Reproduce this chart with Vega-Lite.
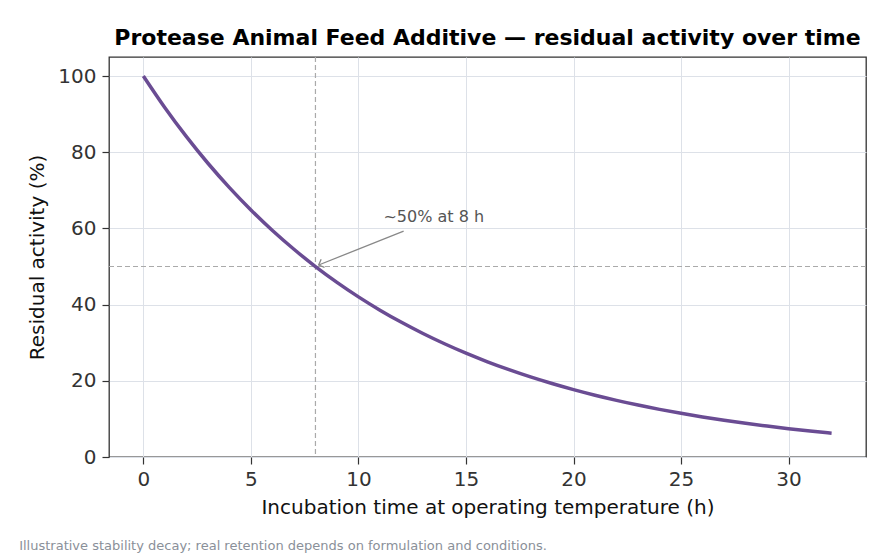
{
  "$schema": "https://vega.github.io/schema/vega-lite/v6.json",
  "background": "white",
  "padding": {"left": 19, "top": 26, "right": 9, "bottom": 5},
  "config": {
    "font": "DejaVu Sans",
    "view": {"stroke": "#333333", "strokeWidth": 1.3},
    "axis": {
      "labelFont": "DejaVu Sans", "titleFont": "DejaVu Sans",
      "labelFontSize": 20, "titleFontSize": 20, "titleFontWeight": "normal",
      "labelColor": "#333333", "titleColor": "#111111",
      "tickColor": "#333333", "tickSize": 7, "tickWidth": 1.2, "domain": false,
      "gridColor": "#dde1e8", "gridWidth": 1
    }
  },
  "datasets": {
    "curve": [
      {"t": 0, "a": 100}, {"t": 1, "a": 91.7}, {"t": 2, "a": 84.09}, {"t": 3, "a": 77.11},
      {"t": 4, "a": 70.71}, {"t": 5, "a": 64.84}, {"t": 6, "a": 59.46}, {"t": 7, "a": 54.53},
      {"t": 8, "a": 50.0}, {"t": 9, "a": 45.85}, {"t": 10, "a": 42.04}, {"t": 11, "a": 38.55},
      {"t": 12, "a": 35.36}, {"t": 13, "a": 32.42}, {"t": 14, "a": 29.73}, {"t": 15, "a": 27.26},
      {"t": 16, "a": 25.0}, {"t": 17, "a": 22.93}, {"t": 18, "a": 21.02}, {"t": 19, "a": 19.28},
      {"t": 20, "a": 17.68}, {"t": 21, "a": 16.21}, {"t": 22, "a": 14.87}, {"t": 23, "a": 13.63},
      {"t": 24, "a": 12.5}, {"t": 25, "a": 11.46}, {"t": 26, "a": 10.51}, {"t": 27, "a": 9.64},
      {"t": 28, "a": 8.84}, {"t": 29, "a": 8.11}, {"t": 30, "a": 7.43}, {"t": 31, "a": 6.82},
      {"t": 32, "a": 6.25}
    ],
    "vref": [{"t": 8}],
    "href": [{"a": 50}],
    "arrow": [{"t": 12.1, "a": 59.3, "t2": 8.15, "a2": 50.4}],
    "head": [{"t": 8.15, "a": 50.4}],
    "label": [{"t": 13.5, "a": 63.1, "txt": "~50% at 8 h"}]
  },
  "title": {
    "text": "Illustrative stability decay; real retention depends on formulation and conditions.",
    "orient": "bottom", "anchor": "start", "frame": "bounds", "dx": -8,
    "font": "DejaVu Sans", "fontSize": 13, "fontWeight": "normal", "color": "#8a9099", "offset": 22
  },
  "vconcat": [
    {
      "width": 757,
      "height": 400,
      "title": {"text": "Protease Animal Feed Additive — residual activity over time", "font": "DejaVu Sans", "fontSize": 22, "fontWeight": "bold", "color": "#000000", "anchor": "middle", "offset": 6},
      "layer": [
        {
          "data": {"name": "vref"},
          "mark": {"type": "rule", "color": "#aaaaaa", "strokeWidth": 1.2, "strokeDash": [5, 3]},
          "encoding": {"x": {"field": "t", "type": "quantitative"}}
        },
        {
          "data": {"name": "href"},
          "mark": {"type": "rule", "color": "#aaaaaa", "strokeWidth": 1.2, "strokeDash": [5, 3]},
          "encoding": {"y": {"field": "a", "type": "quantitative"}}
        },
        {
          "data": {"name": "curve"},
          "mark": {"type": "line", "color": "#6a4c93", "strokeWidth": 3.5, "interpolate": "monotone"},
          "encoding": {
            "x": {"field": "t", "type": "quantitative", "scale": {"domain": [-1.6, 33.6], "nice": false, "zero": false},
              "axis": {"values": [0, 5, 10, 15, 20, 25, 30], "title": "Incubation time at operating temperature (h)", "labelPadding": 5, "titlePadding": 8}},
            "y": {"field": "a", "type": "quantitative", "scale": {"domain": [0, 105], "nice": false},
              "axis": {"values": [0, 20, 40, 60, 80, 100], "title": "Residual activity (%)", "labelPadding": 6, "titlePadding": 10}}
          }
        },
        {
          "data": {"name": "arrow"},
          "mark": {"type": "rule", "color": "#888888", "strokeWidth": 1.3},
          "encoding": {
            "x": {"field": "t", "type": "quantitative"}, "y": {"field": "a", "type": "quantitative"},
            "x2": {"field": "t2"}, "y2": {"field": "a2"}
          }
        },
        {
          "data": {"name": "head"},
          "mark": {"type": "point", "shape": "M -1 1 L 0 0 L 1 1", "filled": false, "color": "#888888", "opacity": 1, "strokeWidth": 1.3, "size": 80, "angle": 248},
          "encoding": {"x": {"field": "t", "type": "quantitative"}, "y": {"field": "a", "type": "quantitative"}}
        },
        {
          "data": {"name": "label"},
          "mark": {"type": "text", "fontSize": 16, "color": "#555555", "align": "center", "baseline": "middle", "font": "DejaVu Sans"},
          "encoding": {"x": {"field": "t", "type": "quantitative"}, "y": {"field": "a", "type": "quantitative"}, "text": {"field": "txt"}}
        }
      ]
    }
  ]
}
